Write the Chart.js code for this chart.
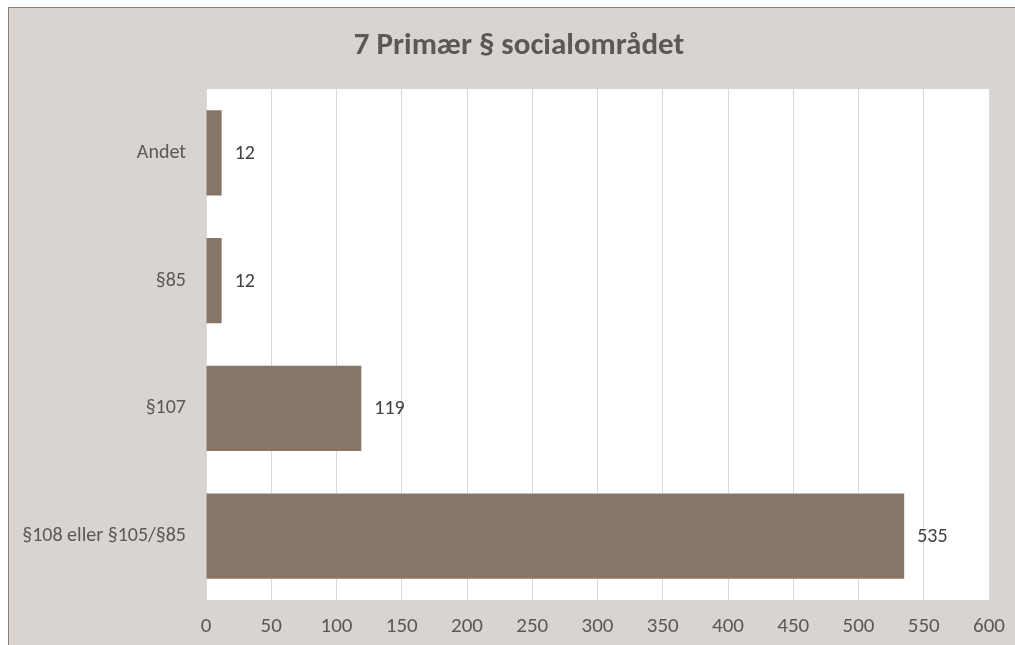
<!DOCTYPE html>
<html>
<head>
<meta charset="utf-8">
<script src="https://cdn.jsdelivr.net/npm/chart.js@4.4.1/dist/chart.umd.min.js"></script>
<style>
    html, body { margin: 0; padding: 0; overflow: hidden; background: #ffffff; width: 1015px; height: 645px; }
    #frame { position: absolute; left: 8px; top: 7px; width: 1020px; height: 660px;
             background: #d9d4d0; border-left: 1px solid #8d7f76; border-top: 1px solid #8d7f76; }
    #chart { display: block; }
</style>
</head>
<body>
<div id="frame"><canvas id="chart" width="1020" height="660"></canvas></div>
<script>
    const categories = ['Andet', '§85', '§107', '§108 eller §105/§85'];
    const values = [12, 12, 119, 535];
    const xTicks = [0, 50, 100, 150, 200, 250, 300, 350, 400, 450, 500, 550, 600];
    const chartTitle = '7 Primær § socialområdet';

    const fontFamily = 'Carlito, Calibri, "Open Sans", sans-serif';

    // white plot area behind the bars
    const plotBackground = {
        id: 'plotBackground',
        beforeDraw(chart) {
            const { ctx, chartArea } = chart;
            ctx.save();
            ctx.fillStyle = '#ffffff';
            ctx.fillRect(chartArea.left, chartArea.top, chartArea.right - chartArea.left, chartArea.bottom - chartArea.top);
            ctx.restore();
        }
    };

    // title centred on the whole chart frame, not on the plot
    const frameTitle = {
        id: 'frameTitle',
        afterDraw(chart) {
            const { ctx } = chart;
            ctx.save();
            ctx.fillStyle = '#595959';
            ctx.font = 'bold 31px ' + fontFamily;
            ctx.textAlign = 'center';
            ctx.textBaseline = 'alphabetic';
            ctx.fillText(chartTitle, chart.width / 2, 46);
            ctx.restore();
        }
    };

    // value labels at the bar ends
    const valueLabels = {
        id: 'valueLabels',
        afterDatasetsDraw(chart) {
            const { ctx } = chart;
            const meta = chart.getDatasetMeta(0);
            ctx.save();
            ctx.fillStyle = '#404040';
            ctx.font = '20px ' + fontFamily;
            ctx.textAlign = 'left';
            ctx.textBaseline = 'middle';
            meta.data.forEach((bar, i) => {
                ctx.fillText(String(values[i]), bar.x + 13, bar.y + 1);
            });
            ctx.restore();
        }
    };

    new Chart(document.getElementById('chart').getContext('2d'), {
        type: 'bar',
        data: {
            labels: categories,
            datasets: [{
                data: values,
                backgroundColor: '#877668',
                borderWidth: 0,
                categoryPercentage: 1,
                barPercentage: 0.667
            }]
        },
        options: {
            indexAxis: 'y',
            responsive: false,
            animation: false,
            layout: { padding: { left: 0, right: 40, top: 81, bottom: 30 } },
            plugins: {
                legend: { display: false },
                tooltip: { enabled: false },
                title: { display: false }
            },
            scales: {
                x: {
                    min: 0,
                    max: 600,
                    afterBuildTicks(axis) {
                        axis.ticks = xTicks.map(v => ({ value: v }));
                    },
                    afterFit(axis) { axis.height = 38; },
                    grid: { color: '#d9d9d9', lineWidth: 1, drawTicks: false },
                    border: { display: false },
                    ticks: {
                        color: '#595959',
                        padding: 14,
                        maxRotation: 0,
                        font: { family: fontFamily, size: 21 }
                    }
                },
                y: {
                    afterFit(axis) { axis.width = 197; },
                    grid: { display: false, drawTicks: false },
                    border: { display: false },
                    ticks: {
                        color: '#595959',
                        padding: 20,
                        font: { family: fontFamily, size: 20 }
                    }
                }
            }
        },
        plugins: [plotBackground, valueLabels, frameTitle]
    });
</script>
</body>
</html>
